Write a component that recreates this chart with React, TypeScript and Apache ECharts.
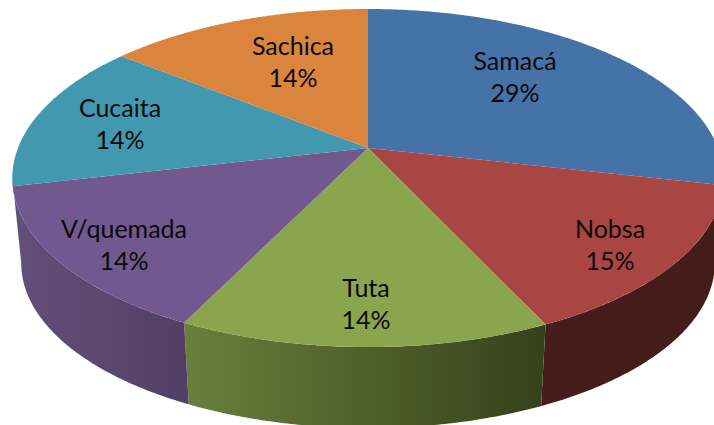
import React, { useEffect, useRef } from "react";
import * as echarts from "echarts";

const categories = ["Samacá", "Nobsa", "Tuta", "V/quemada", "Cucaita", "Sachica"];
const shares = [28.5, 14.5, 14.28, 14.11, 14.31, 14.3];
const topColors = ["#4572A7", "#A94643", "#89A54E", "#71588F", "#4198AF", "#DB843D"];
const wallLeft = ["", "#461D1B", "#68803C", "#62507A", "", ""];
const wallRight = ["", "#441C1A", "#35411A", "#523F66", "", ""];
const labelCentres = [
  [515, 76],
  [610, 244],
  [366, 303],
  [124, 244],
  [120, 123],
  [293, 61],
];

const W = 714;
const H = 425;
const CX = 368;
const CY = 148;
const A = 350;
const B = 163.7;
const K = 0.1776;
const DROP = 86;
const SHRINK = 0.975;
const FRONT_START = 100.2;
const FRONT_END = 259.8;

const total = shares.reduce((s, v) => s + v, 0);
const startAngle = (i: number) =>
  (shares.slice(0, i).reduce((s, v) => s + v, 0) / total) * 360;

function rim(deg: number, scale = 1, drop = 0): number[] {
  const t = (deg * Math.PI) / 180;
  const X = Math.sin(t);
  const Y = -Math.cos(t);
  const w = 1 - K * Y;
  return [CX + (scale * A * X) / w, CY + drop + (scale * B * Y) / w];
}

function arc(from: number, to: number, scale = 1, drop = 0): number[][] {
  const pts: number[][] = [];
  const n = Math.max(2, Math.ceil((to - from) * 2));
  for (let j = 0; j <= n; j++) pts.push(rim(from + ((to - from) * j) / n, scale, drop));
  return pts;
}

function renderWall(params: any, api: any) {
  const i = params.dataIndex;
  if (!wallLeft[i]) return null;
  const a0 = startAngle(i);
  const a1 = a0 + (api.value(0) / total) * 360;
  // The first and last visible walls run out to the silhouette of the disc.
  const from = i === 1 ? FRONT_START : a0;
  const to = i === 3 ? FRONT_END : a1;
  const points = [...arc(from, to), ...arc(from, to, SHRINK, DROP).reverse()];
  return {
    type: "polygon",
    shape: { points },
    style: {
      fill: new echarts.graphic.LinearGradient(0, 0, 1, 0, [
        { offset: 0, color: wallLeft[i] },
        { offset: 1, color: wallRight[i] },
      ]),
    },
  };
}

function renderTop(params: any, api: any) {
  const i = params.dataIndex;
  const from = startAngle(i);
  const to = from + (api.value(0) / total) * 360;
  return {
    type: "polygon",
    shape: { points: [[CX, CY], ...arc(from, to)] },
    style: { fill: topColors[i] },
  };
}

function renderLabel(params: any, api: any) {
  const i = params.dataIndex;
  const pct = Math.round((api.value(0) / total) * 100 + 1e-9);
  return {
    type: "text",
    x: labelCentres[i][0],
    y: labelCentres[i][1],
    style: {
      text: `${categories[i]}\n${pct}%`,
      fill: "#0A0A0A",
      font: '25px "Lato", sans-serif',
      lineHeight: 32,
      align: "center",
      verticalAlign: "middle",
    },
  };
}

export default function App() {
  const ref = useRef<HTMLDivElement>(null);
  useEffect(() => {
    document.body.style.margin = "0";
    const chart = echarts.init(ref.current!, null, { renderer: "svg" });
    const data = categories.map((name, i) => ({ name, value: [shares[i]] }));
    chart.setOption({
      animation: false,
      backgroundColor: "#FFFFFF",
      series: [
        { type: "custom", coordinateSystem: "none", renderItem: renderWall, data, silent: true },
        { type: "custom", coordinateSystem: "none", renderItem: renderTop, data, silent: true },
        { type: "custom", coordinateSystem: "none", renderItem: renderLabel, data, silent: true },
      ],
    });
    return () => chart.dispose();
  }, []);
  return <div ref={ref} style={{ width: W, height: H, overflow: "hidden" }} />;
}
